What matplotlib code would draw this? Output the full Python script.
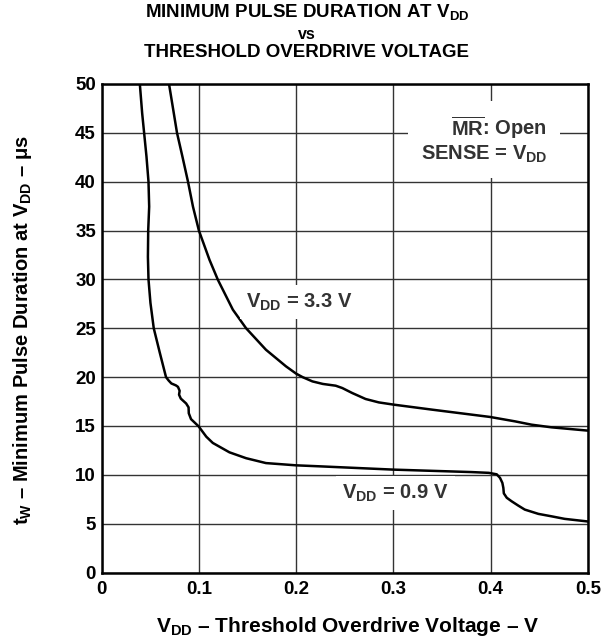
import numpy as np
import matplotlib
matplotlib.use('Agg')
import matplotlib.pyplot as plt

plt.rcParams['font.family'] = ['Liberation Sans', 'DejaVu Sans']
plt.rcParams['font.weight'] = 'bold'
plt.rcParams['mathtext.fontset'] = 'custom'
plt.rcParams['mathtext.rm'] = 'Liberation Sans:bold'
plt.rcParams['mathtext.bf'] = 'Liberation Sans:bold'
plt.rcParams['mathtext.it'] = 'Liberation Sans:bold'
plt.rcParams['mathtext.sf'] = 'Liberation Sans:bold'

# curve VDD = 0.9 V
v09_x = [0.0394, 0.0418, 0.0438, 0.0462, 0.0483, 0.0490, 0.0480, 0.0477, 0.0483, 0.0503,
         0.0537, 0.0599, 0.0663, 0.069, 0.0718, 0.0765, 0.0786, 0.0803, 0.0797, 0.0815,
         0.087, 0.0895, 0.0897, 0.092, 0.0998, 0.1077, 0.1144, 0.1315, 0.1486, 0.169,
         0.1998, 0.2236, 0.3, 0.38, 0.398, 0.4062, 0.4096, 0.412, 0.413, 0.4135,
         0.4165, 0.4215, 0.4283, 0.435, 0.449, 0.462, 0.476, 0.5]
v09_y = [50, 47.0, 45, 42.6, 40, 37.45, 35, 32.3, 30, 27.6,
         25, 22.5, 20, 19.65, 19.35, 19.15, 19.0, 18.6, 18.2, 17.8,
         17.3, 16.9, 16.3, 15.7, 14.96, 13.9, 13.26, 12.3, 11.7, 11.2,
         10.97, 10.87, 10.53, 10.28, 10.2, 10.05, 9.68, 9.17, 8.66, 8.1,
         7.65, 7.29, 6.85, 6.44, 6.0, 5.76, 5.49, 5.22]

# curve VDD = 3.3 V
v33_x = [0.0694, 0.0735, 0.0776, 0.0831, 0.0889, 0.094, 0.1001, 0.111, 0.1196, 0.135,
         0.1486, 0.169, 0.1896, 0.2001, 0.2066, 0.2168, 0.2275, 0.2407, 0.2475, 0.2577,
         0.2714, 0.285, 0.3004, 0.3396, 0.3994, 0.425, 0.442, 0.4624, 0.5]
v33_y = [50, 47.5, 45, 42.6, 40, 37.45, 35, 32.0, 29.96, 26.9,
         25.0, 22.8, 21.1, 20.35, 20.0, 19.56, 19.3, 19.12, 18.88, 18.37,
         17.76, 17.41, 17.18, 16.67, 15.92, 15.47, 15.13, 14.86, 14.52]

xticks = [0, 0.1, 0.2, 0.3, 0.4, 0.5]
xtick_labels = ['0', '0.1', '0.2', '0.3', '0.4', '0.5']
yticks = list(range(0, 55, 5))

W, H = 614, 638
fig = plt.figure(figsize=(W / 100, H / 100), dpi=100)
ax = fig.add_axes([101.5 / W, 1 - 572.5 / H, 486.5 / W, 488.5 / H])

ax.plot(v09_x, v09_y, color='black', lw=1.8, zorder=3, solid_joinstyle='round')
ax.plot(v33_x, v33_y, color='black', lw=1.8, zorder=3, solid_joinstyle='round')

ax.set_xlim(0, 0.5)
ax.set_ylim(0, 50)
ax.set_xticks(xticks)
ax.set_xticklabels(xtick_labels)
ax.set_yticks(yticks)
ax.grid(True, color='#333333', lw=1.0)
ax.set_axisbelow(True)
ax.tick_params(length=0, labelsize=13.5)
ax.tick_params(axis='y', pad=4)
ax.tick_params(axis='x', pad=6)
for lab in ax.get_xticklabels() + ax.get_yticklabels():
    lab.set_fontweight('bold')
for s in ax.spines.values():
    s.set_linewidth(1.8)

box = dict(facecolor='white', edgecolor='none', pad=4.5)
ax.text(0.203, 27.7, r'$\mathregular{V_{DD}}$ = 3.3 V', ha='center', va='center',
        fontsize=14.5, color='#333333', bbox=box, zorder=4)
ax.text(0.302, 8.1, r'$\mathregular{V_{DD}}$ = 0.9 V', ha='center', va='center',
        fontsize=14.5, color='#333333', bbox=box, zorder=4)
ax.text(0.458, 44.3, r'$\mathregular{\overline{MR}}$: Open' + '\n' + r'SENSE = $\mathregular{V_{DD}}$',
        ha='right', va='center', fontsize=14.5, color='#333333', linespacing=1.2,
        bbox=dict(facecolor='white', edgecolor='none', pad=9), zorder=4)

fig.text(0.5, 1 - 16.7 / H, r'MINIMUM PULSE DURATION AT $\mathregular{V_{DD}}$',
         ha='center', va='baseline', fontsize=13.5)
fig.text(0.5, 1 - 39.3 / H, 'vs', ha='center', va='baseline', fontsize=11.5)
fig.text(0.5, 1 - 57.3 / H, 'THRESHOLD OVERDRIVE VOLTAGE', ha='center', va='baseline', fontsize=13.5)

fig.text(348 / W, 1 - 632 / H, r'$\mathregular{V_{DD}}$ – Threshold Overdrive Voltage – V',
         ha='center', va='baseline', fontsize=15)
fig.text(23 / W, 1 - 330 / H, r'$\mathregular{t_W}$ – Minimum Pulse Duration at $\mathregular{V_{DD}}$ – μs',
         ha='center', va='center', rotation=90, fontsize=14.5)

fig.savefig('out.png', dpi=100)
